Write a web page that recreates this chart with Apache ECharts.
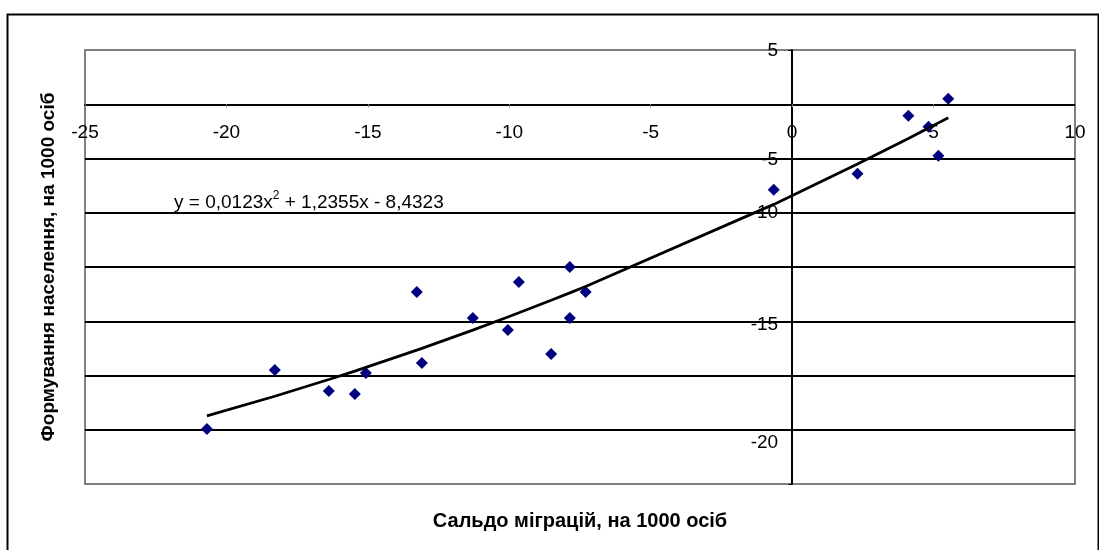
<!DOCTYPE html>
<html>
<head>
<meta charset="utf-8">
<script src="https://cdn.jsdelivr.net/npm/echarts@6/dist/echarts.min.js"></script>
<style>
html,body{margin:0;padding:0;background:#fff;}
#chart{width:1099px;height:550px;}
</style>
</head>
<body>
<div id="chart"></div>
<script>
// Data
var migrationBalance = [-20.69, -18.29, -16.38, -15.46, -15.07, -13.27, -13.09, -11.29, -10.05, -9.66, -8.52, -7.86, -7.86, -7.30, -0.65, 2.31, 4.11, 4.82, 5.17, 5.52];
var populationChange = [-29.93, -24.49, -26.43, -26.71, -24.77, -17.30, -23.85, -19.70, -20.80, -16.38, -23.02, -14.99, -19.70, -17.30, -7.89, -6.41, -1.06, -2.08, -4.75, 0.51];
// Trend line equation shown on the chart: y = a*x^2 + b*x + c
var trendCoefficients = [0.0123, 1.2355, -8.4323];
var xTickLabels = ['-25', '-20', '-15', '-10', '-5', '0', '5', '10'];
// y-axis labels as printed in the reference and where they sit on the value scale
var yLabelTexts = ['5', '-5', '-10', '-15', '-20'];
var yLabelValues = [4.9, -5.1, -10, -20.3, -31.2];
var xTitle = 'Сальдо міграцій, на 1000 осіб';
var yTitle = 'Формування населення, на 1000 осіб';
var equationParts = ['y = 0,0123x', '2', ' + 1,2355x - 8,4323'];

var FONT = '"Liberation Sans", Arial, sans-serif';

// layout
var GRID = {left: 85, right: 24, top: 50, bottom: 66};
var W = 1099, H = 550;
var X_MIN = -25, X_MAX = 10, Y_MIN = -35, Y_MAX = 5;
var plotW = W - GRID.left - GRID.right;
var plotH = H - GRID.top - GRID.bottom;
// axes cross at zero: shift them from the grid edges
var xAxisOffset = -plotH * (0 - Y_MIN) / (Y_MAX - Y_MIN);
var yAxisOffset = -plotW * (0 - X_MIN) / (X_MAX - X_MIN);

var points = migrationBalance.map(function (x, i) { return [x, populationChange[i]]; });
var sortedX = migrationBalance.slice().sort(function (a, b) { return a - b; });
var trend = sortedX.map(function (x) {
  return [x, trendCoefficients[0] * x * x + trendCoefficients[1] * x + trendCoefficients[2]];
});

function yLabelFormatter(v) {
  var best = -1, bd = 1e9;
  for (var i = 0; i < yLabelValues.length; i++) {
    var d = Math.abs(yLabelValues[i] - v);
    if (d < bd) { bd = d; best = i; }
  }
  return bd < 0.01 ? yLabelTexts[best] : '';
}
function xLabelFormatter(v) {
  var idx = Math.round((v + 25) / 5);
  return xTickLabels[idx] !== undefined ? xTickLabels[idx] : '';
}

var chart = echarts.init(document.getElementById('chart'), null, {renderer: 'canvas'});
chart.setOption({
  animation: false,
  backgroundColor: '#ffffff',
  grid: {
    left: GRID.left, right: GRID.right, top: GRID.top, bottom: GRID.bottom,
    containLabel: false, outerBoundsMode: 'none',
    show: true, borderColor: '#808080', borderWidth: 2, backgroundColor: 'transparent'
  },
  xAxis: {
    type: 'value', min: X_MIN, max: X_MAX, interval: 5,
    position: 'bottom', offset: xAxisOffset,
    axisLine: {show: true, onZero: false, lineStyle: {color: '#000', width: 2}},
    axisTick: {show: true, inside: false, length: 3, lineStyle: {color: '#808080', width: 1}},
    axisLabel: {show: true, margin: 19, fontSize: 19, color: '#000', fontFamily: FONT, formatter: xLabelFormatter},
    splitLine: {show: false},
    name: xTitle, nameLocation: 'middle', nameGap: 407,
    nameTextStyle: {fontSize: 20, fontWeight: 'bold', color: '#000', fontFamily: FONT}
  },
  yAxis: {
    type: 'value', min: Y_MIN, max: Y_MAX, interval: 5,
    position: 'left', offset: yAxisOffset,
    axisLine: {show: true, onZero: false, lineStyle: {color: '#000', width: 2}},
    axisTick: {show: true, inside: false, length: 4, lineStyle: {color: '#000', width: 1}},
    axisLabel: {show: true, customValues: yLabelValues, formatter: yLabelFormatter, margin: 14, fontSize: 19, color: '#000', fontFamily: FONT},
    splitLine: {show: true, showMinLine: false, showMaxLine: false, lineStyle: {color: '#000', width: 2}},
    name: yTitle, nameLocation: 'middle', nameGap: 734,
    nameTextStyle: {fontSize: 19, fontWeight: 'bold', color: '#000', fontFamily: FONT}
  },
  graphic: [
    {
      type: 'rect', left: 5, top: 12, silent: true, z: 0,
      shape: {width: 1091, height: 560},
      style: {fill: 'none', stroke: '#000', lineWidth: 2}
    },
    {
      type: 'text', left: 174, top: 190, z: 100, silent: true,
      style: {
        text: '{a|' + equationParts[0] + '}{s|' + equationParts[1] + '}{a|' + equationParts[2] + '}',
        rich: {
          a: {fontSize: 19, fontFamily: FONT, fill: '#000', lineHeight: 22, verticalAlign: 'bottom'},
          s: {fontSize: 12, fontFamily: FONT, fill: '#000', lineHeight: 22, verticalAlign: 'top'}
        }
      }
    }
  ],
  series: [
    {
      type: 'scatter',
      symbol: 'diamond', symbolSize: 12,
      itemStyle: {color: '#000080', opacity: 1},
      data: points, z: 3
    },
    {
      type: 'line',
      showSymbol: false, symbol: 'none', smooth: false,
      lineStyle: {color: '#000', width: 2.8},
      data: trend, z: 4
    }
  ]
});
</script>
</body>
</html>
